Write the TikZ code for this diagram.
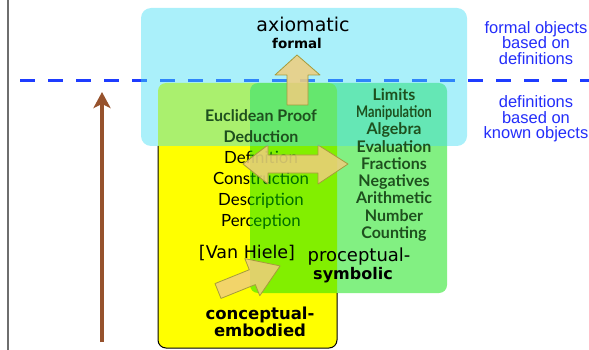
\documentclass[tikz,border=0pt]{standalone}
\usepackage{fontspec}
\setmainfont{DejaVu Sans}
\newfontfamily\gill{Lato}
\newfontfamily\blufont{Liberation Sans}
\usetikzlibrary{arrows.meta}
\definecolor{cyanbox}{RGB}{67,222,244}
\definecolor{greenbox}{RGB}{0,224,0}
\definecolor{yellowbox}{RGB}{255,255,0}
\definecolor{tanfill}{RGB}{240,205,125}
\definecolor{tanline}{RGB}{165,155,60}
\definecolor{darkgreen}{RGB}{30,80,30}
\definecolor{blutext}{RGB}{35,45,250}
\definecolor{dashblue}{RGB}{30,60,255}
\definecolor{brownarrow}{RGB}{150,82,45}
\definecolor{edgegray}{RGB}{110,110,110}
\begin{document}
\begin{tikzpicture}[x=1pt,y=-1pt,
  tanarrow/.style={fill=tanfill, fill opacity=0.85, draw=tanline, line width=0.8pt, line join=round},
  lbl/.style={inner sep=0pt, align=center, text=black},
  bluelbl/.style={inner sep=0pt, align=center, text=blutext, font=\blufont\fontsize{16.5}{15.5}\selectfont},
  greenlist/.style={inner sep=0pt, align=center, text=darkgreen, font=\gill\bfseries\fontsize{16}{17.25}\selectfont},
  blacklist/.style={inner sep=0pt, align=center, text=black, font=\gill\fontsize{16.8}{21}\selectfont}]
\useasboundingbox (0,0) rectangle (589,350);

% left edge line
\coordinate (e0) at (8,0);
\coordinate (e1) at (8,350);
\draw[edgegray, line width=1.2pt] (e0) -- (e1);

% yellow box (conceptual-embodied)
\fill[yellowbox, rounded corners=8] (158,83) rectangle (337,348);
\node[blacklist] (deflist) at (261,190) {Definition\\Construction\\Description\\Perception};

% green box (proceptual-symbolic)
\fill[greenbox, fill opacity=0.49, rounded corners=8] (250,83) rectangle (447,293);

% border of yellow box visible part
\draw[black, line width=1pt, rounded corners=8] (337,293) -- (337,348) -- (158,348) -- (158,146);

% tan arrows
\draw[tanarrow] (243,164) -- (268,145) -- (268,155) -- (318,155) -- (318,145) -- (348,164)
  -- (318,184) -- (318,173) -- (268,173) -- (268,184) -- cycle;
\begin{scope}[shift={(218,291)}, rotate=22]
  \draw[tanarrow] (0,-8) -- (37,-8) -- (37,-20) -- (67,0) -- (37,20) -- (37,8) -- (0,8) -- cycle;
\end{scope}

% dashed line
\coordinate (d0) at (20,81);
\coordinate (d1) at (589,81);
\draw[dashblue, line width=3pt, dash pattern=on 15pt off 13pt] (d0) -- (d1);

% cyan box (axiomatic formal)
\fill[cyanbox, fill opacity=0.45, rounded corners=10] (141,8) rectangle (467,146);

% up arrow
\draw[tanarrow] (287,105) -- (287,75) -- (275,75) -- (297,55) -- (320,75) -- (308,75) -- (308,105) -- cycle;

% green texts
\node[greenlist] (plist) at (394,165) {Limits\\\scalebox{0.8}[1]{Manipulation}\\Algebra\\Evaluation\\Fractions\\Negatives\\Arithmetic\\Number\\Counting};
\node[inner sep=0pt, align=center, text=darkgreen, font=\gill\bfseries\fontsize{16}{21}\selectfont] (eucl) at (261,126) {Euclidean Proof\\Deduction};

% headings
\node[lbl, font=\fontsize{19}{20}\selectfont] (axiom) at (303,24) {axiomatic};
\node[lbl, font=\bfseries\fontsize{13.5}{15}\selectfont] (formal) at (297,43) {formal};
\node[lbl, font=\fontsize{17.5}{20}\selectfont] (vanh) at (247,253) {[Van Hiele]};
\node[lbl, font=\fontsize{18}{20}\selectfont] (procep) at (359,257) {proceptual-};
\node[lbl, font=\bfseries\fontsize{16}{18}\selectfont] (symb) at (353,275) {symbolic};
\node[lbl, font=\bfseries\fontsize{16.5}{17}\selectfont] (concep) at (260,322) {conceptual-\\embodied};

% blue side labels
\node[bluelbl] (fobj) at (536,43) {formal objects\\based on\\definitions};
\node[bluelbl] (dobj) at (536,119) {definitions\\based on\\known objects};

% brown arrow
\coordinate (b0) at (102,342);
\coordinate (b1) at (102,92);
\draw[brownarrow, line width=4pt, -{Stealth[width=17pt,length=16pt,inset=4pt]}] (b0) -- (b1);
\end{tikzpicture}
\end{document}
